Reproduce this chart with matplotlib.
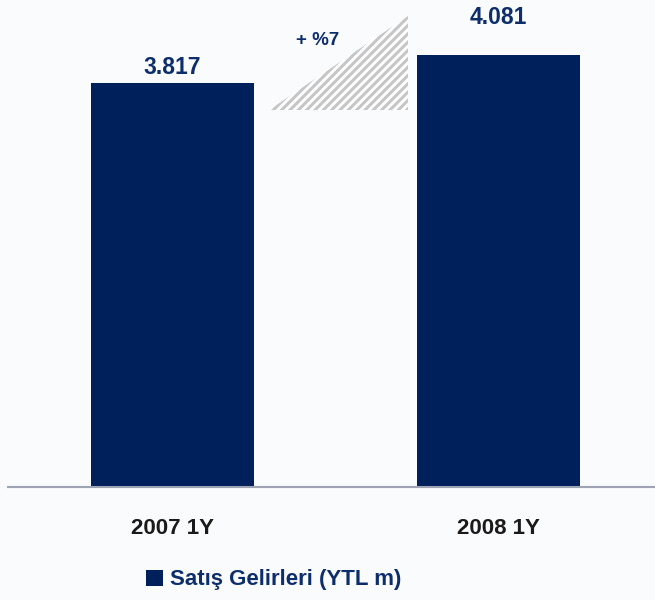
import matplotlib.pyplot as plt
from matplotlib.patches import Polygon

categories = ['2007 1Y', '2008 1Y']
values = [3.817, 4.081]
value_labels = ['3.817', '4.081']
label_offsets_px = [15, 37]
growth_label = '+ %7'
legend_label = 'Satış Gelirleri (YTL m)'

navy = '#00205b'
text_navy = '#0d2d6b'
bg = '#fafbfd'

plt.rcParams['font.family'] = ['Liberation Sans', 'DejaVu Sans']
plt.rcParams['hatch.linewidth'] = 2.2

fig = plt.figure(figsize=(6.55, 6.0), dpi=100, facecolor=bg)
ax = fig.add_axes([8 / 655, 113 / 600, 647 / 655, 487 / 600])
ax.set_facecolor(bg)

x = list(range(len(categories)))
bars = ax.bar(x, values, width=0.5, color=navy, label=legend_label, zorder=2)
ax.set_xlim(-0.505, 1.48)
ax.set_ylim(0, 4.6)

for xi, v, lab, off in zip(x, values, value_labels, label_offsets_px):
    ax.annotate(lab, (xi, v), xytext=(0, off * 0.72), textcoords='offset points',
                ha='center', va='center', fontsize=16.5, fontweight='bold',
                color=text_navy)

# hatched growth wedge between the bars
tri = Polygon([(0.296, 3.56), (0.722, 3.56), (0.722, 4.45)], closed=True,
              facecolor='white', edgecolor='#c6c6c6', linewidth=0,
              hatch='////', zorder=1)
ax.add_patch(tri)
ax.text(0.445, 4.22, growth_label, ha='center', va='center', fontsize=13.5,
        fontweight='bold', color=text_navy)

for s in ['top', 'left', 'right']:
    ax.spines[s].set_visible(False)
ax.spines['bottom'].set_color('#9ea4b3')
ax.spines['bottom'].set_linewidth(1.5)
ax.set_yticks([])
ax.set_xticks(x)
ax.set_xticklabels(categories, fontsize=16, fontweight='bold', color='#1a1a1a')
ax.tick_params(axis='x', length=0, pad=22)

fig.legend(loc='center', bbox_to_anchor=(0.418, 1 - 580 / 600), frameon=False,
           prop={'size': 16, 'weight': 'bold'}, labelcolor=text_navy,
           handlelength=0.75, handleheight=0.75, handletextpad=0.3)

fig.savefig('out.png', dpi=100, facecolor=bg)
